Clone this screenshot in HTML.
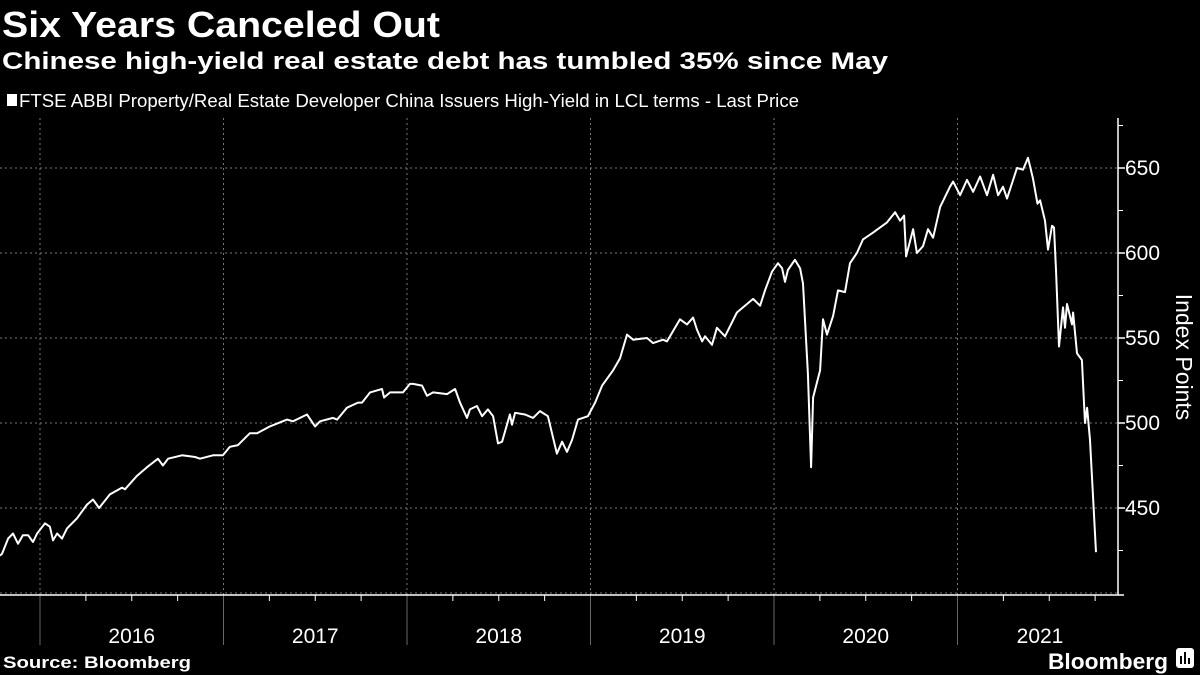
<!DOCTYPE html>
<html><head><meta charset="utf-8"><style>
html,body{margin:0;padding:0;background:#000;}
svg{display:block;font-family:"Liberation Sans Narrow","Liberation Sans",sans-serif;}
</style></head><body>
<svg id="chart" width="1200" height="675" viewBox="0 0 1200 675" xmlns="http://www.w3.org/2000/svg">
<rect width="1200" height="675" fill="#000"/>
<text x="2" y="37" fill="#fff" font-size="36" font-weight="bold" textLength="438" lengthAdjust="spacingAndGlyphs">Six Years Canceled Out</text>
<text x="2" y="69" fill="#fff" font-size="24" font-weight="bold" textLength="886" lengthAdjust="spacingAndGlyphs">Chinese high-yield real estate debt has tumbled 35% since May</text>
<rect x="7" y="94" width="10" height="12" fill="#fff"/>
<text x="19" y="107" fill="#fff" font-size="18" textLength="780" lengthAdjust="spacingAndGlyphs">FTSE ABBI Property/Real Estate Developer China Issuers High-Yield in LCL terms - Last Price</text>
<g id="grid"></g><g id="axes"></g><g id="series"></g>
<text transform="translate(1176,357) rotate(90)" text-anchor="middle" fill="#fff" font-size="23" font-family="Liberation Sans, sans-serif">Index Points</text>
<text x="3" y="668" fill="#fff" font-size="17" font-weight="bold" textLength="188" lengthAdjust="spacingAndGlyphs">Source: Bloomberg</text>
<text x="1048" y="669" fill="#fff" font-size="22" font-weight="bold" textLength="120" lengthAdjust="spacingAndGlyphs">Bloomberg</text>
<g><rect x="1176" y="648" width="18" height="20" rx="3" fill="#fff"/><rect x="1180" y="656" width="2" height="8" fill="#000"/><rect x="1184" y="652" width="2" height="12" fill="#000"/><rect x="1188" y="658" width="2" height="6" fill="#000"/></g>
</svg>
<script>
const times=[2015.782,2015.793,2015.826,2015.853,2015.880,2015.907,2015.935,2015.962,2015.984,2016.027,2016.054,2016.071,2016.093,2016.120,2016.147,2016.202,2016.256,2016.289,2016.322,2016.381,2016.447,2016.463,2016.529,2016.583,2016.643,2016.670,2016.698,2016.774,2016.845,2016.872,2016.943,2016.997,2017.035,2017.079,2017.144,2017.183,2017.253,2017.346,2017.379,2017.455,2017.499,2017.526,2017.597,2017.619,2017.673,2017.733,2017.755,2017.799,2017.864,2017.875,2017.908,2017.978,2018.016,2018.033,2018.082,2018.109,2018.142,2018.218,2018.262,2018.289,2018.327,2018.343,2018.381,2018.409,2018.441,2018.469,2018.496,2018.518,2018.561,2018.572,2018.589,2018.643,2018.687,2018.725,2018.768,2018.817,2018.845,2018.872,2018.899,2018.932,2018.986,2019.025,2019.063,2019.123,2019.161,2019.199,2019.232,2019.308,2019.341,2019.395,2019.417,2019.488,2019.526,2019.559,2019.580,2019.608,2019.624,2019.662,2019.689,2019.733,2019.798,2019.886,2019.924,2019.951,2019.989,2020.022,2020.044,2020.060,2020.076,2020.114,2020.142,2020.158,2020.185,2020.202,2020.213,2020.251,2020.267,2020.289,2020.322,2020.349,2020.387,2020.414,2020.452,2020.485,2020.540,2020.616,2020.660,2020.687,2020.709,2020.720,2020.758,2020.779,2020.812,2020.839,2020.867,2020.905,2020.959,2020.976,2021.014,2021.052,2021.085,2021.123,2021.161,2021.194,2021.221,2021.248,2021.270,2021.324,2021.357,2021.384,2021.411,2021.436,2021.450,2021.477,2021.493,2021.515,2021.526,2021.537,2021.553,2021.575,2021.586,2021.597,2021.624,2021.630,2021.651,2021.678,2021.695,2021.706,2021.722,2021.755];
const values=[422,423,432,435,429,434,434,430,435,441,439,431,435,432,438,444,452,455,450,458,462,461,469,474,479,475,479,481,480,479,481,481,486,487,494,494,498,502,501,505,498,501,503,502,509,512,512,518,520,515,518,518,523,523,522,516,518,517,520,512,503,508,510,504,508,504,488,489,505,499,506,505,503,507,504,482,489,483,490,502,504,512,522,531,538,552,549,550,547,549,548,561,558,562,555,548,551,546,556,551,565,573,569,578,589,594,591,583,590,596,591,582,529,474,515,531,561,552,563,578,577,594,600,608,612,618,624,619,622,598,614,600,604,614,609,627,639,642,634,643,636,645,634,646,634,639,632,650,649,656,644,629,631,619,602,616,615,590,545,568,556,570,558,565,541,537,500,509,490,424];
const yTicks=[450,500,550,600,650];
const yMinor=[425,475,525,575,625,675];
const years=[2016,2017,2018,2019,2020,2021];
const NS="http://www.w3.org/2000/svg";
const xs=t=>40+(t-2016)*183.5;
const ys=v=>168+(650-v)*1.7;
const AX=1118, AY=595, TOP=118;
function mk(tag,attrs,parent){const e=document.createElementNS(NS,tag);for(const k in attrs)e.setAttribute(k,attrs[k]);parent.appendChild(e);return e;}
const grid=document.getElementById('grid'),axes=document.getElementById('axes'),series=document.getElementById('series');
yTicks.forEach(v=>{
  const g=mk('line',{x1:0,x2:AX,y1:ys(v),y2:ys(v),stroke:'#777','stroke-width':1,'stroke-dasharray':'2,3'},grid);
  
  
  const tk=mk('line',{x1:AX,x2:AX+7,y1:ys(v),y2:ys(v),stroke:'#fff','stroke-width':1.5},axes);
  
  
  const lb=mk('text',{x:AX+7,y:ys(v)+7,fill:'#fff','font-size':21,'font-family':'Liberation Sans, sans-serif'},axes);
  lb.textContent=v;
  
  
});
const bg=mk('line',{x1:0,x2:AX,y1:593,y2:593,stroke:'#777','stroke-width':1,'stroke-dasharray':'2,3'},grid);


yMinor.forEach(v=>{
  const tk=mk('line',{x1:AX,x2:AX+5,y1:ys(v),y2:ys(v),stroke:'#fff','stroke-width':1},axes);
  
  
});
years.forEach(yr=>{
  const x=xs(yr);
  const g=mk('line',{x1:x,x2:x,y1:TOP,y2:AY,stroke:'#777','stroke-width':1,'stroke-dasharray':'2,3'},grid);
  
  
  const s=mk('line',{x1:x,x2:x,y1:AY,y2:645,stroke:'#666','stroke-width':1},axes);
  
  
  for(let q=1;q<4;q++){
    const qx=xs(yr+q/4);
    if(qx<AX){
      const t=mk('line',{x1:qx,x2:qx,y1:AY,y2:AY+6,stroke:'#fff','stroke-width':1},axes);
      
      
    }
  }
  const cx=Math.min(xs(yr+0.5),1040);
  const lb=mk('text',{x:cx,y:643,fill:'#fff','font-size':21,'text-anchor':'middle'},axes);
  lb.textContent=yr;
  
  
});
const ya=mk('line',{x1:AX,x2:AX,y1:TOP,y2:AY,stroke:'#fff','stroke-width':1.5},axes);


const xa=mk('line',{x1:0,x2:AX+6,y1:AY,y2:AY,stroke:'#fff','stroke-width':1.5},axes);


let d='';
times.forEach((t,i)=>{d+=(i?'L':'M')+xs(t).toFixed(1)+','+ys(values[i]).toFixed(1);});
const p=mk('path',{d:d,fill:'none',stroke:'#fff','stroke-width':2,'stroke-linejoin':'round'},series);


</script>
</body></html>
